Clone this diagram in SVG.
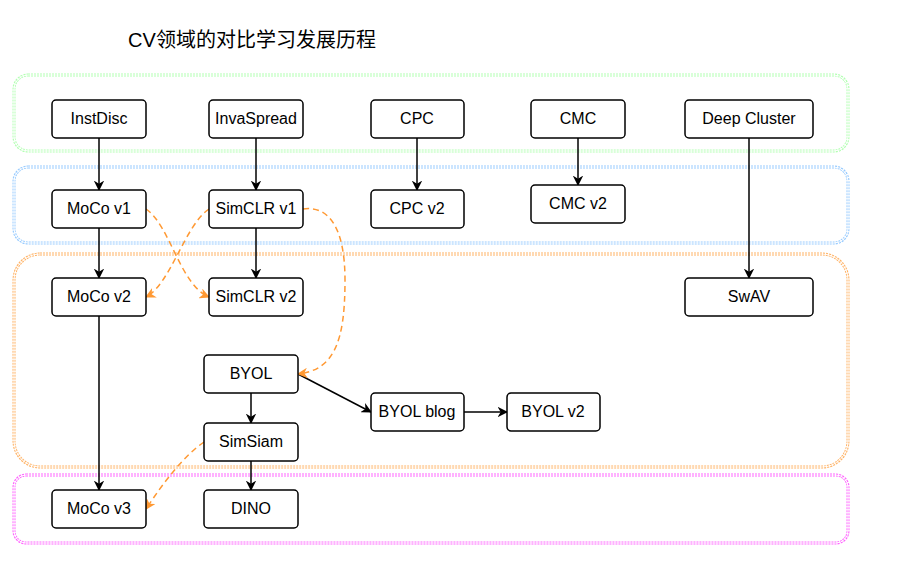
<svg xmlns="http://www.w3.org/2000/svg" width="905" height="587" viewBox="0 0 905 587">
<defs>
<marker id="a" viewBox="0 0 10 10" refX="9" refY="5" markerWidth="7" markerHeight="7" orient="auto"><path d="M0,0 L10,5 L0,10 L3,5 z" fill="#000"/></marker>
<marker id="o" viewBox="0 0 10 10" refX="9" refY="5" markerWidth="7" markerHeight="7" orient="auto"><path d="M0,0 L10,5 L0,10 L3,5 z" fill="#FF9933"/></marker>
<style>
.n rect{fill:#fff;stroke:#000;stroke-width:1.5}
.n text{font-family:"Liberation Sans",Arial,sans-serif;font-size:16px;text-anchor:middle;dominant-baseline:central}
.g{fill:none;stroke-width:3;stroke-dasharray:2 1}
.gi{fill:none;stroke:#fff;stroke-width:1}
.e{fill:none;stroke:#000;stroke-width:1.5;marker-end:url(#a)}
.d{fill:none;stroke:#FF9933;stroke-width:1.5;stroke-dasharray:6 4;marker-end:url(#o)}
</style>
</defs>
<rect width="905" height="587" fill="#fff"/>
<text x="252" y="47" font-family="'Liberation Sans','Noto Sans CJK SC',sans-serif" font-size="20" text-anchor="middle">CV领域的对比学习发展历程</text>
<g id="groups">
<rect class="g" x="14" y="75" width="834" height="76" rx="14" stroke="#B3FFB3"/><rect class="gi" x="14" y="75" width="834" height="76" rx="14"/>
<rect class="g" x="14" y="167" width="834" height="76" rx="14" stroke="#99CCFF"/><rect class="gi" x="14" y="167" width="834" height="76" rx="14"/>
<rect class="g" x="14" y="254" width="834" height="213" rx="26" stroke="#FFB366"/><rect class="gi" x="14" y="254" width="834" height="213" rx="26"/>
<rect class="g" x="14" y="475" width="834" height="68" rx="12" stroke="#FF66FF"/><rect class="gi" x="14" y="475" width="834" height="68" rx="12"/>
</g>
<g id="connectors">
<path class="e" d="M99,138 V190"/>
<path class="e" d="M256,138 V190"/>
<path class="e" d="M417,138 V190"/>
<path class="e" d="M578,138 V185"/>
<path class="e" d="M749,138 V278"/>
<path class="e" d="M99,228 V278"/>
<path class="e" d="M256,228 V278"/>
<path class="e" d="M99,316 V490"/>
<path class="e" d="M251,393 V423"/>
<path class="e" d="M251,461 V490"/>
<path class="e" d="M298,374 L371,412"/>
<path class="e" d="M464,412 H507"/>
<path class="d" d="M146,209 C170,225 180,285 209,297"/>
<path class="d" d="M209,209 C185,225 170,285 146,297"/>
<path class="d" d="M303,209 C330,205 345,230 345,280 C345,340 335,370 298,374"/>
<path class="d" d="M204,442 C185,455 165,480 146,509"/>
</g>
<g id="InstDisc" class="n"><rect x="52" y="100" width="94" height="38" rx="4"/><text x="99" y="118">InstDisc</text></g>
<g id="InvaSpread" class="n"><rect x="209" y="100" width="94" height="38" rx="4"/><text x="256" y="118">InvaSpread</text></g>
<g id="CPC" class="n"><rect x="371" y="100" width="93" height="38" rx="4"/><text x="417" y="118">CPC</text></g>
<g id="CMC" class="n"><rect x="531" y="100" width="94" height="38" rx="4"/><text x="578" y="118">CMC</text></g>
<g id="DeepCluster" class="n"><rect x="685" y="100" width="128" height="38" rx="4"/><text x="749" y="118">Deep Cluster</text></g>
<g id="MoCov1" class="n"><rect x="52" y="190" width="94" height="38" rx="4"/><text x="99" y="208">MoCo v1</text></g>
<g id="SimCLRv1" class="n"><rect x="209" y="190" width="94" height="38" rx="4"/><text x="256" y="208">SimCLR v1</text></g>
<g id="CPCv2" class="n"><rect x="371" y="190" width="93" height="38" rx="4"/><text x="417" y="208">CPC v2</text></g>
<g id="CMCv2" class="n"><rect x="531" y="185" width="94" height="38" rx="4"/><text x="578" y="203">CMC v2</text></g>
<g id="MoCov2" class="n"><rect x="52" y="278" width="94" height="38" rx="4"/><text x="99" y="296">MoCo v2</text></g>
<g id="SimCLRv2" class="n"><rect x="209" y="278" width="94" height="38" rx="4"/><text x="256" y="296">SimCLR v2</text></g>
<g id="SwAV" class="n"><rect x="685" y="278" width="128" height="38" rx="4"/><text x="749" y="296">SwAV</text></g>
<g id="BYOL" class="n"><rect x="204" y="355" width="94" height="38" rx="4"/><text x="251" y="373">BYOL</text></g>
<g id="SimSiam" class="n"><rect x="204" y="423" width="94" height="38" rx="4"/><text x="251" y="441">SimSiam</text></g>
<g id="BYOLblog" class="n"><rect x="371" y="393" width="93" height="38" rx="4"/><text x="417" y="411">BYOL blog</text></g>
<g id="BYOLv2" class="n"><rect x="507" y="393" width="93" height="38" rx="4"/><text x="553" y="411">BYOL v2</text></g>
<g id="MoCov3" class="n"><rect x="52" y="490" width="94" height="38" rx="4"/><text x="99" y="508">MoCo v3</text></g>
<g id="DINO" class="n"><rect x="204" y="490" width="94" height="38" rx="4"/><text x="251" y="508">DINO</text></g>
</svg>
